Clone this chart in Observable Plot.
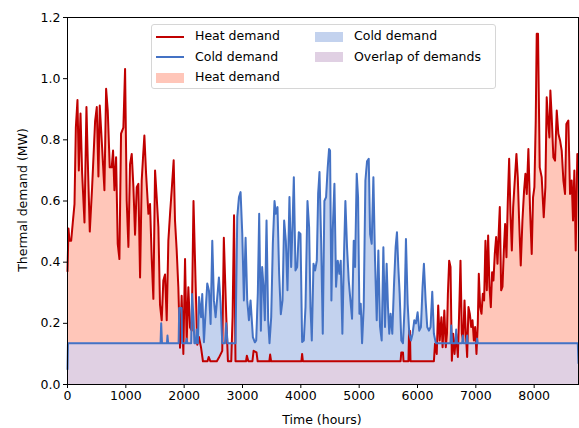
<!DOCTYPE html>
<html>
<head>
<meta charset="utf-8">
<script src="https://cdn.jsdelivr.net/npm/d3@7"></script>
<script src="https://cdn.jsdelivr.net/npm/@observablehq/plot@0.6"></script>
<style>
  html, body { margin: 0; padding: 0; background: white; }
  #wrap { position: relative; width: 579px; height: 428px; font-family: "DejaVu Sans", sans-serif; color: #000; }
  #wrap svg { position: absolute; left: 0; top: 0; }
  .lbl { position: absolute; font-size: 12.5px; white-space: nowrap; }
  #legend { position: absolute; left: 151px; top: 24px; width: 345px; height: 65px; border: 1px solid #d6d6d6; border-radius: 3px; background: rgba(255,255,255,0.85); box-sizing: border-box; }
  .item { position: absolute; font-size: 12.5px; white-space: nowrap; line-height: 14px; }
  .handle-line { position: absolute; width: 28px; height: 2px; }
  .handle-patch { position: absolute; width: 28px; height: 10px; }
</style>
</head>
<body>
<div id="wrap"></div>
<script>
// ---- data (hours, MW) ----
const heatDemand = [
[0,0.37],[17,0.51],[34,0.47],[63,0.47],[91,0.53],[120,0.59],[143,0.84],[171,0.93],[194,0.70],[223,0.886],
[251,0.69],[291,0.53],[325,0.907],[348,0.73],[382,0.50],[422,0.645],[473,0.86],[502,0.907],[530,0.68],[553,0.912],
[593,0.776],[633,0.635],[662,0.967],[690,0.896],[724,0.71],[758,0.71],[781,0.765],[804,0.635],[833,0.743],[861,0.46],
[890,0.41],[918,0.82],[958,0.84],[987,1.032],[1015,0.60],[1044,0.45],[1072,0.72],[1101,0.754],[1130,0.645],[1158,0.49],
[1187,0.645],[1215,0.656],[1244,0.35],[1272,0.667],[1295,0.743],[1318,0.814],[1347,0.69],[1387,0.558],[1415,0.59],[1444,0.41],
[1472,0.28],[1501,0.70],[1529,0.613],[1558,0.514],[1586,0.26],[1615,0.21],[1643,0.34],[1672,0.36],[1701,0.21],[1729,0.47],
[1758,0.558],[1786,0.635],[1820,0.733],[1843,0.536],[1872,0.438],[1900,0.318],[1929,0.12],[1957,0.29],[1986,0.10],[2015,0.41],
[2043,0.14],[2072,0.318],[2100,0.187],[2129,0.176],[2160,0.60],[2196,0.33],[2225,0.13],[2254,0.155],[2290,0.12],[2322,0.076],
[2400,0.076],[2420,0.09],[2450,0.076],[2560,0.076],[2596,0.088],[2653,0.11],[2680,0.48],[2722,0.22],[2750,0.076],[2807,0.076],
[2830,0.22],[2855,0.553],[2880,0.076],[3060,0.076],[3075,0.094],[3100,0.076],[3170,0.076],[3190,0.11],[3240,0.105],[3260,0.076],
[3460,0.076],[3474,0.098],[3490,0.076],[4010,0.076],[4022,0.10],[4035,0.076],[5710,0.076],[5722,0.105],[5751,0.105],[5760,0.076],
[5845,0.076],[5855,0.176],[5870,0.176],[5880,0.076],[6281,0.076],[6300,0.133],[6330,0.10],[6355,0.258],[6380,0.144],[6410,0.22],
[6430,0.122],[6460,0.242],[6485,0.122],[6505,0.166],[6521,0.297],[6543,0.405],[6566,0.384],[6589,0.078],[6612,0.166],[6635,0.10],
[6663,0.166],[6692,0.09],[6720,0.275],[6737,0.405],[6760,0.166],[6783,0.144],[6806,0.275],[6829,0.166],[6851,0.09],[6874,0.253],
[6897,0.231],[6920,0.188],[6943,0.21],[6966,0.144],[6988,0.188],[7011,0.10],[7034,0.20],[7051,0.362],[7074,0.253],[7097,0.231],
[7120,0.297],[7142,0.275],[7165,0.47],[7188,0.308],[7211,0.487],[7234,0.32],[7257,0.253],[7279,0.367],[7302,0.34],[7325,0.427],
[7348,0.482],[7371,0.395],[7394,0.504],[7411,0.58],[7434,0.308],[7457,0.32],[7480,0.438],[7502,0.525],[7525,0.416],[7548,0.60],
[7571,0.738],[7594,0.558],[7617,0.438],[7640,0.58],[7662,0.65],[7696,0.754],[7719,0.678],[7742,0.536],[7770,0.389],[7799,0.536],
[7827,0.634],[7850,0.689],[7873,0.623],[7901,0.77],[7930,0.569],[7958,0.427],[7981,0.612],[8004,0.645],[8027,0.863],[8044,1.147],
[8066,1.147],[8095,0.71],[8129,0.678],[8164,0.547],[8192,0.645],[8215,0.939],[8238,0.863],[8261,0.808],[8278,0.961],[8301,0.874],
[8329,0.743],[8358,0.732],[8387,0.896],[8415,0.82],[8444,0.798],[8472,0.765],[8501,0.667],[8529,0.623],[8552,0.852],[8586,0.863],
[8615,0.623],[8643,0.667],[8666,0.536],[8689,0.70],[8712,0.438],[8740,0.754],[8760,0.732]
];

const coldDemand = [
[0,0.05],[8,0.135],[1595,0.135],[1606,0.20],[1620,0.135],[1705,0.135],[1714,0.16],[1725,0.135],[1905,0.135],[1915,0.25],
[1955,0.25],[1965,0.135],[2030,0.135],[2043,0.15],[2055,0.135],[2120,0.135],[2135,0.296],[2160,0.22],[2175,0.135],[2200,0.135],
[2215,0.18],[2235,0.135],[2255,0.286],[2290,0.22],[2310,0.296],[2339,0.138],[2368,0.24],[2396,0.33],[2425,0.307],[2453,0.198],
[2482,0.47],[2510,0.275],[2539,0.22],[2568,0.286],[2596,0.35],[2625,0.264],[2653,0.135],[2700,0.135],[2720,0.20],[2745,0.135],
[2880,0.135],[2910,0.547],[2939,0.612],[2967,0.629],[2996,0.493],[3024,0.275],[3053,0.48],[3081,0.275],[3110,0.21],[3138,0.275],
[3178,0.155],[3212,0.138],[3235,0.144],[3263,0.30],[3286,0.558],[3315,0.176],[3337,0.384],[3360,0.32],[3383,0.21],[3412,0.536],
[3440,0.21],[3463,0.135],[3492,0.22],[3520,0.46],[3549,0.60],[3571,0.558],[3600,0.58],[3628,0.362],[3657,0.23],[3686,0.275],
[3714,0.536],[3743,0.47],[3771,0.308],[3805,0.613],[3834,0.384],[3857,0.514],[3880,0.678],[3908,0.373],[3937,0.384],[3965,0.498],
[3994,0.492],[4022,0.139],[4051,0.144],[4080,0.253],[4114,0.60],[4142,0.514],[4165,0.253],[4188,0.144],[4217,0.395],[4245,0.373],
[4274,0.405],[4297,0.624],[4320,0.695],[4348,0.47],[4376,0.166],[4404,0.60],[4433,0.613],[4461,0.71],[4484,0.77],[4501,0.765],
[4524,0.275],[4547,0.504],[4576,0.656],[4604,0.32],[4633,0.405],[4661,0.362],[4684,0.405],[4712,0.166],[4735,0.384],[4764,0.60],
[4792,0.449],[4821,0.34],[4850,0.275],[4878,0.215],[4907,0.47],[4930,0.384],[4958,0.689],[4981,0.613],[5004,0.231],[5027,0.264],
[5050,0.135],[5078,0.253],[5107,0.667],[5135,0.73],[5164,0.738],[5187,0.492],[5215,0.46],[5244,0.678],[5272,0.405],[5301,0.21],
[5329,0.438],[5358,0.188],[5386,0.144],[5415,0.449],[5443,0.188],[5471,0.395],[5494,0.253],[5516,0.166],[5539,0.231],[5568,0.166],
[5596,0.32],[5625,0.449],[5648,0.498],[5671,0.384],[5694,0.297],[5722,0.144],[5751,0.135],[5779,0.253],[5802,0.476],[5831,0.264],
[5859,0.166],[5888,0.144],[5916,0.166],[5945,0.21],[5973,0.20],[6002,0.236],[6030,0.176],[6059,0.188],[6087,0.32],[6110,0.395],
[6139,0.275],[6167,0.188],[6196,0.176],[6224,0.188],[6253,0.303],[6281,0.166],[6310,0.139],[6320,0.135],[6565,0.135],[6578,0.193],
[6592,0.135],[6650,0.135],[6663,0.18],[6676,0.135],[6765,0.135],[6777,0.16],[6790,0.135],[6840,0.135],[6851,0.16],[6862,0.135],
[7010,0.135],[7022,0.15],[7035,0.135],[8748,0.135],[8760,0.07]
];

const xTicks = [0,1000,2000,3000,4000,5000,6000,7000,8000];
const yTicks = [0.0,0.2,0.4,0.6,0.8,1.0,1.2];
const seriesNames = ["Heat demand", "Cold demand", "Heat demand", "Cold demand", "Overlap of demands"];

const colors = {
  heatLine: "#c00000", coldLine: "#4472c4",
  heatFill: "#ffc6b9", coldFill: "#c3d2ee", overlapFill: "#e0d0e3"
};

// ---- overlap = min of the two series, evaluated at all breakpoints + crossings ----
function interp(s, x) {
  let i = d3.bisector(d => d[0]).right(s, x);
  if (i <= 0) return s[0][1];
  if (i >= s.length) return s[s.length - 1][1];
  const a = s[i - 1], b = s[i];
  return a[1] + (b[1] - a[1]) * (x - a[0]) / (b[0] - a[0]);
}
const xs = Array.from(new Set([...heatDemand.map(d => d[0]), ...coldDemand.map(d => d[0])])).sort((a, b) => a - b);
const overlap = [];
for (let k = 0; k < xs.length; k++) {
  const x = xs[k], h = interp(heatDemand, x), c = interp(coldDemand, x);
  if (k > 0) {
    const xp = xs[k - 1], hp = interp(heatDemand, xp), cp = interp(coldDemand, xp);
    const dp = hp - cp, dn = h - c;
    if (dp * dn < 0) {
      const t = dp / (dp - dn);
      const xc = xp + t * (x - xp);
      overlap.push([xc, interp(heatDemand, xc)]);
    }
  }
  overlap.push([x, Math.min(h, c)]);
}

const chart = Plot.plot({
  width: 579, height: 428,
  marginLeft: 67, marginRight: 1, marginTop: 17, marginBottom: 44,
  style: { fontFamily: "DejaVu Sans", fontSize: "12.5px", color: "black", background: "white", overflow: "visible" },
  x: { domain: [0, 8760] },
  y: { domain: [0, 1.2] },
  marks: [
    Plot.areaY(heatDemand, { x: d => d[0], y: d => d[1], fill: colors.heatFill }),
    Plot.areaY(coldDemand, { x: d => d[0], y: d => d[1], fill: colors.coldFill }),
    Plot.areaY(overlap, { x: d => d[0], y: d => d[1], fill: colors.overlapFill }),
    Plot.lineY(heatDemand, { x: d => d[0], y: d => d[1], stroke: colors.heatLine, strokeWidth: 2, strokeLinejoin: "round" }),
    Plot.lineY(coldDemand, { x: d => d[0], y: d => d[1], stroke: colors.coldLine, strokeWidth: 2, strokeLinejoin: "round" }),
    Plot.frame({ stroke: "black", strokeWidth: 1 }),
    Plot.axisX({ ticks: xTicks, tickFormat: d => String(d), tickSize: 4, tickPadding: 3, label: null }),
    Plot.axisY({ ticks: yTicks, tickFormat: d => d.toFixed(1), tickSize: 4, tickPadding: 3, label: null })
  ]
});

const wrap = document.getElementById("wrap");
wrap.appendChild(chart);

// axis labels
const xl = document.createElement("div");
xl.className = "lbl"; xl.textContent = "Time (hours)";
xl.style.left = "322px"; xl.style.top = "412px"; xl.style.transform = "translateX(-50%)";
wrap.appendChild(xl);
const yl = document.createElement("div");
yl.className = "lbl"; yl.textContent = "Thermal demand (MW)";
yl.style.left = "22px"; yl.style.top = "200px"; yl.style.transform = "translate(-50%,-50%) rotate(-90deg)";
wrap.appendChild(yl);

// legend
const lg = document.createElement("div");
lg.id = "legend";
wrap.appendChild(lg);
const entries = [
  { type: "line", color: colors.heatLine, col: 0, row: 0, name: seriesNames[0] },
  { type: "line", color: colors.coldLine, col: 0, row: 1, name: seriesNames[1] },
  { type: "patch", color: colors.heatFill, col: 0, row: 2, name: seriesNames[2] },
  { type: "patch", color: colors.coldFill, col: 1, row: 0, name: seriesNames[3] },
  { type: "patch", color: colors.overlapFill, col: 1, row: 1, name: seriesNames[4] }
];
entries.forEach(e => {
  const cx = e.col === 0 ? 4 : 163;
  const cy = 11.5 + e.row * 20.7;
  const h = document.createElement("div");
  h.className = e.type === "line" ? "handle-line" : "handle-patch";
  h.style.background = e.color;
  h.style.left = cx + "px";
  h.style.top = (cy - (e.type === "line" ? 1 : 5)) + "px";
  lg.appendChild(h);
  const t = document.createElement("div");
  t.className = "item"; t.textContent = e.name;
  t.style.left = (cx + 39) + "px"; t.style.top = (cy - 7.5) + "px";
  lg.appendChild(t);
});
</script>
</body>
</html>
